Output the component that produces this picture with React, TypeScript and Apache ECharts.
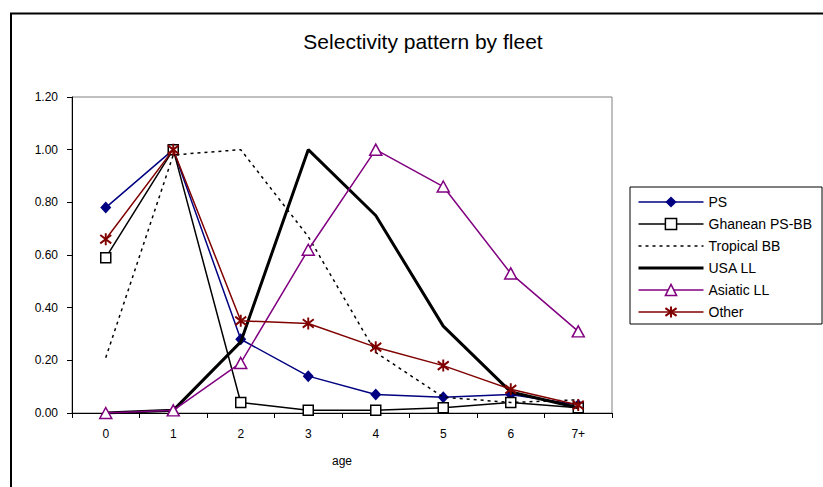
import React, { useEffect, useRef } from "react";
import * as echarts from "echarts";

const categories = ["0", "1", "2", "3", "4", "5", "6", "7+"];
const psValues = [0.78, 1.0, 0.28, 0.14, 0.07, 0.06, 0.07, 0.03];
const ghaneanValues = [0.59, 1.0, 0.04, 0.01, 0.01, 0.02, 0.04, 0.02];
const tropicalValues = [0.21, 0.98, 1.0, 0.67, 0.23, 0.06, 0.04, 0.05];
const usaValues = [0.0, 0.01, 0.27, 1.0, 0.75, 0.33, 0.08, 0.02];
const asiaticValues = [0.0, 0.01, 0.19, 0.62, 1.0, 0.86, 0.53, 0.31];
const otherValues = [0.66, 1.0, 0.35, 0.34, 0.25, 0.18, 0.09, 0.03];
const yTicks = [0, 0.2, 0.4, 0.6, 0.8, 1.0, 1.2];

const FONT = "'Liberation Sans', Arial, sans-serif";
const ASTERISK = "path://M0,-10L0,10M-7,-7L7,7M-7,7L7,-7";

export default function App() {
  const ref = useRef<HTMLDivElement>(null);
  useEffect(() => {
    if (!ref.current) return;
    const chart = echarts.init(ref.current, undefined, { renderer: "svg" });
    chart.setOption({
      animation: false,
      backgroundColor: "#fff",
      textStyle: { fontFamily: FONT },
      graphic: [
        {
          type: "rect",
          shape: { x: 11, y: 13.5, width: 840, height: 500 },
          style: { fill: "none", stroke: "#000", lineWidth: 2 },
          silent: true,
        },
        {
          type: "text",
          x: 423,
          y: 41,
          style: {
            text: "Selectivity pattern by fleet",
            fontSize: 21,
            fontFamily: FONT,
            fill: "#000",
            align: "center",
            verticalAlign: "middle",
          },
        },
      ],
      grid: {
        left: 72,
        top: 97,
        width: 540,
        height: 316,
        show: true,
        borderColor: "#808080",
        borderWidth: 1,
      },
      legend: {
        orient: "vertical",
        left: 630,
        top: 187,
        padding: [8, 10, 5, 7],
        itemWidth: 65,
        itemHeight: 14,
        itemGap: 8,
        borderColor: "#000",
        borderWidth: 1,
        selectedMode: false,
        textStyle: { fontSize: 14, color: "#000", fontFamily: FONT },
        itemStyle: { borderWidth: "inherit" },
        lineStyle: { width: "inherit" },
        data: [
          { name: "PS" },
          { name: "Ghanean PS-BB" },
          { name: "Tropical BB", itemStyle: { opacity: 0 } },
          { name: "USA LL", itemStyle: { opacity: 0 } },
          { name: "Asiatic LL" },
          { name: "Other" },
        ],
      },
      xAxis: {
        type: "category",
        data: categories,
        boundaryGap: true,
        name: "age",
        nameLocation: "middle",
        nameGap: 42,
        nameTextStyle: { fontSize: 12, color: "#000", fontFamily: FONT },
        axisLine: { lineStyle: { color: "#000", width: 1 } },
        axisTick: { show: true, length: 5, interval: 0, lineStyle: { color: "#000" } },
        axisLabel: { fontSize: 12, color: "#000", margin: 15, interval: 0 },
        splitLine: { show: false },
      },
      yAxis: {
        type: "value",
        min: yTicks[0],
        max: yTicks[yTicks.length - 1],
        interval: 0.2,
        axisLine: { show: true, lineStyle: { color: "#000", width: 1 } },
        axisTick: { show: true, length: 5, lineStyle: { color: "#000" } },
        axisLabel: {
          fontSize: 12,
          color: "#000",
          margin: 14,
          formatter: (v: number) => v.toFixed(2),
        },
        splitLine: { show: false },
      },
      series: [
        {
          name: "PS",
          type: "line",
          data: psValues,
          symbol: "diamond",
          symbolSize: [11, 12],
          lineStyle: { color: "#000080", width: 1.5 },
          itemStyle: { color: "#000080", borderWidth: 0 },
          z: 2,
        },
        {
          name: "Ghanean PS-BB",
          type: "line",
          data: ghaneanValues,
          symbol: "rect",
          symbolSize: 10,
          lineStyle: { color: "#000", width: 1.5 },
          itemStyle: { color: "#fff", borderColor: "#000", borderWidth: 1.5 },
          z: 3,
        },
        {
          name: "Tropical BB",
          type: "line",
          data: tropicalValues,
          symbol: "none",
          lineStyle: { color: "#000", width: 1.5, type: [3, 4] },
          itemStyle: { color: "#000" },
          z: 4,
        },
        {
          name: "USA LL",
          type: "line",
          data: usaValues,
          symbol: "none",
          lineStyle: { color: "#000", width: 3 },
          itemStyle: { color: "#000" },
          z: 5,
        },
        {
          name: "Asiatic LL",
          type: "line",
          data: asiaticValues,
          symbol: "triangle",
          symbolSize: [12, 11],
          lineStyle: { color: "#800080", width: 1.5 },
          itemStyle: { color: "#fff", borderColor: "#800080", borderWidth: 1.5 },
          z: 6,
        },
        {
          name: "Other",
          type: "line",
          data: otherValues,
          symbol: ASTERISK,
          symbolSize: [11, 12],
          lineStyle: { color: "#800000", width: 1.5 },
          itemStyle: { color: "#800000", borderColor: "#800000", borderWidth: 2 },
          z: 7,
        },
      ],
    });
    return () => chart.dispose();
  }, []);
  return (
    <div
      ref={ref}
      style={{ position: "absolute", left: 0, top: 0, width: 823, height: 487 }}
    />
  );
}
